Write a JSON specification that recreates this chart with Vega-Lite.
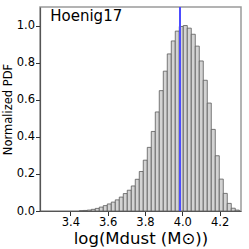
{
  "$schema": "https://vega.github.io/schema/vega-lite/v6.json",
  "width": 201,
  "height": 204,
  "autosize": {"type": "none"},
  "padding": {"left": 40, "top": 7, "right": 8, "bottom": 38},
  "config": {
    "font": "DejaVu Sans",
    "view": {"stroke": "#9a9a9a", "strokeWidth": 1.5},
    "axis": {
      "grid": false,
      "domainColor": "#555555",
      "domainWidth": 1.2,
      "tickColor": "#333333",
      "tickSize": 4.5,
      "labelFont": "DejaVu Sans",
      "labelFontSize": 11.5,
      "labelColor": "#000000",
      "titleFont": "DejaVu Sans",
      "titleFontWeight": "normal",
      "titleColor": "#000000"
    }
  },
  "data": {
    "values": [
      {"x0": 3.4477, "x1": 3.4692, "pdf": 0.001},
      {"x0": 3.4692, "x1": 3.4906, "pdf": 0.003},
      {"x0": 3.4906, "x1": 3.5121, "pdf": 0.005},
      {"x0": 3.5121, "x1": 3.5335, "pdf": 0.009},
      {"x0": 3.5335, "x1": 3.5550, "pdf": 0.014},
      {"x0": 3.5550, "x1": 3.5764, "pdf": 0.021},
      {"x0": 3.5764, "x1": 3.5979, "pdf": 0.029},
      {"x0": 3.5979, "x1": 3.6193, "pdf": 0.038},
      {"x0": 3.6193, "x1": 3.6408, "pdf": 0.048},
      {"x0": 3.6408, "x1": 3.6622, "pdf": 0.060},
      {"x0": 3.6622, "x1": 3.6837, "pdf": 0.075},
      {"x0": 3.6837, "x1": 3.7051, "pdf": 0.094},
      {"x0": 3.7051, "x1": 3.7266, "pdf": 0.112},
      {"x0": 3.7266, "x1": 3.7480, "pdf": 0.135},
      {"x0": 3.7480, "x1": 3.7695, "pdf": 0.171},
      {"x0": 3.7695, "x1": 3.7909, "pdf": 0.213},
      {"x0": 3.7909, "x1": 3.8124, "pdf": 0.274},
      {"x0": 3.8124, "x1": 3.8338, "pdf": 0.343},
      {"x0": 3.8338, "x1": 3.8553, "pdf": 0.429},
      {"x0": 3.8553, "x1": 3.8767, "pdf": 0.534},
      {"x0": 3.8767, "x1": 3.8982, "pdf": 0.649},
      {"x0": 3.8982, "x1": 3.9196, "pdf": 0.754},
      {"x0": 3.9196, "x1": 3.9411, "pdf": 0.847},
      {"x0": 3.9411, "x1": 3.9625, "pdf": 0.917},
      {"x0": 3.9625, "x1": 3.9840, "pdf": 0.970},
      {"x0": 3.9840, "x1": 4.0054, "pdf": 0.995},
      {"x0": 4.0054, "x1": 4.0269, "pdf": 1.000},
      {"x0": 4.0269, "x1": 4.0483, "pdf": 0.986},
      {"x0": 4.0483, "x1": 4.0698, "pdf": 0.953},
      {"x0": 4.0698, "x1": 4.0912, "pdf": 0.889},
      {"x0": 4.0912, "x1": 4.1127, "pdf": 0.809},
      {"x0": 4.1127, "x1": 4.1341, "pdf": 0.705},
      {"x0": 4.1341, "x1": 4.1556, "pdf": 0.582},
      {"x0": 4.1556, "x1": 4.1770, "pdf": 0.440},
      {"x0": 4.1770, "x1": 4.1985, "pdf": 0.298},
      {"x0": 4.1985, "x1": 4.2199, "pdf": 0.172},
      {"x0": 4.2199, "x1": 4.2414, "pdf": 0.095},
      {"x0": 4.2414, "x1": 4.2628, "pdf": 0.041},
      {"x0": 4.2628, "x1": 4.2843, "pdf": 0.015},
      {"x0": 4.2843, "x1": 4.3057, "pdf": 0.005}
    ]
  },
  "layer": [
    {
      "mark": {"type": "rect", "fill": "#d3d3d3", "stroke": "#5a5a5a", "strokeWidth": 0.8},
      "encoding": {
        "x": {
          "field": "x0", "type": "quantitative",
          "scale": {"domain": [3.237, 4.315], "nice": false, "zero": false},
          "axis": {"values": [3.4, 3.6, 3.8, 4.0, 4.2], "format": ".1f", "labelPadding": 1, "title": "log(Mdust (M⊙))", "titleFontSize": 16.5, "titlePadding": 2}
        },
        "x2": {"field": "x1"},
        "y": {
          "field": "pdf", "type": "quantitative",
          "scale": {"domain": [0, 1.1], "nice": false},
          "axis": {"values": [0, 0.2, 0.4, 0.6, 0.8, 1.0], "format": ".1f", "labelPadding": 1, "title": "Normalized PDF", "titleFontSize": 11.5, "titlePadding": 3}
        },
        "y2": {"datum": 0}
      }
    },
    {
      "mark": {"type": "rule", "color": "#4d4dff", "strokeWidth": 1.5},
      "encoding": {"x": {"datum": 3.988}}
    },
    {
      "data": {"values": [{"label": "Hoenig17", "x": 3.292, "y": 1.022}]},
      "mark": {"type": "text", "align": "left", "baseline": "alphabetic", "fontSize": 15, "font": "DejaVu Sans", "color": "#000000"},
      "encoding": {
        "x": {"field": "x", "type": "quantitative"},
        "y": {"field": "y", "type": "quantitative"},
        "text": {"field": "label"}
      }
    }
  ]
}
